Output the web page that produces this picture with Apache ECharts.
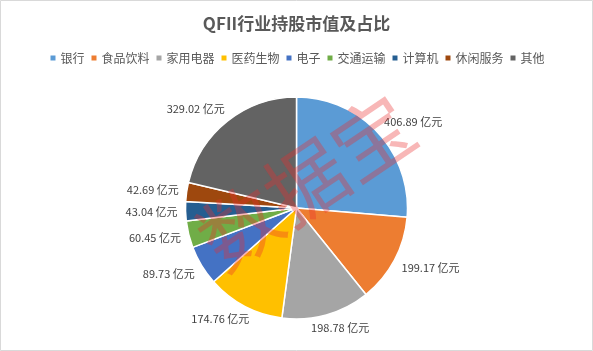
<!DOCTYPE html>
<html>
<head>
<meta charset="utf-8">
<script src="https://cdn.jsdelivr.net/npm/echarts@6/dist/echarts.min.js"></script>
<style>
html,body{margin:0;padding:0;background:#fff;}
#main{width:593px;height:351px;}
</style>
</head>
<body>
<div id="main"></div>
<script>
// 行业 / 市值(亿元)
var categories = ['银行','食品饮料','家用电器','医药生物','电子','交通运输','计算机','休闲服务','其他'];
var values = [406.89,199.17,198.78,174.76,89.73,60.45,43.04,42.69,329.02];
var colors = ['#5B9BD5','#ED7D31','#A5A5A5','#FFC000','#4472C4','#70AD47','#255E91','#9E480E','#636363'];

var cx = 296.5, cy = 208, R = 111;

var data = [];
var total = 0;
for(var i=0;i<values.length;i++){
    total += values[i];
    data.push({name:categories[i],value:values[i],itemStyle:{color:colors[i]}});
}
// 每块扇区中间角度(从正上方顺时针)
var midAngles = [];
var acc = 0;
for(var i=0;i<values.length;i++){
    midAngles.push((acc + values[i]/2)/total*Math.PI*2);
    acc += values[i];
}
function clamp(v){ return Math.max(-1,Math.min(1,v)); }

var myChart = echarts.init(document.getElementById('main'));
var option = {
    backgroundColor:'#fff',
    animation:false,
    title:{
        text:'QFII行业持股市值及占比',
        left:'center',
        top:10,
        textStyle:{fontSize:17,fontWeight:'bold',color:'#595959',fontFamily:'Noto Sans CJK SC'}
    },
    legend:{
        top:47,
        left:'center',
        itemWidth:7,
        itemHeight:7,
        itemGap:5,
        icon:'rect',
        textStyle:{fontSize:12,color:'#595959',fontFamily:'Noto Sans CJK SC',padding:[0,0,0,-1]},
        data:categories
    },
    graphic:[{
        type:'rect',
        shape:{x:0.5,y:0.5,width:592,height:350},
        style:{fill:'none',stroke:'#d9d9d9',lineWidth:1},
        silent:true
    },{
        type:'text',
        x:306,y:182,
        rotation:34/180*Math.PI,
        z:100,
        style:{
            text:'数据宝',
            fontSize:80,
            fontFamily:'Noto Sans CJK SC',
            fill:'rgba(235,45,45,0.34)',
            align:'center',
            verticalAlign:'middle'
        },
        silent:true
    }],
    series:[{
        type:'pie',
        center:[cx,cy],
        radius:[0,R],
        startAngle:90,
        clockwise:true,
        avoidLabelOverlap:false,
        itemStyle:{borderColor:'#fff',borderWidth:1.5},
        label:{
            show:true,
            position:'outside',
            formatter:function(p){return p.value.toFixed(2)+' 亿元';},
            fontSize:11,
            color:'#404040',
            fontFamily:'Noto Sans CJK SC'
        },
        labelLine:{show:false},
        labelLayout:function(params){
            var a = midAngles[params.dataIndex];
            var s = Math.sin(a), c = Math.cos(a);
            var w = params.labelRect.width, h = params.labelRect.height;
            var r = R + 8;
            var x = cx + s*r + clamp(s*1.5)*w/2;
            var y = cy - c*r - clamp(c*1.5)*h/2;
            return {x:x, y:y, align:'center', verticalAlign:'middle'};
        },
        data:data
    }]
};
myChart.setOption(option);
</script>
</body>
</html>
